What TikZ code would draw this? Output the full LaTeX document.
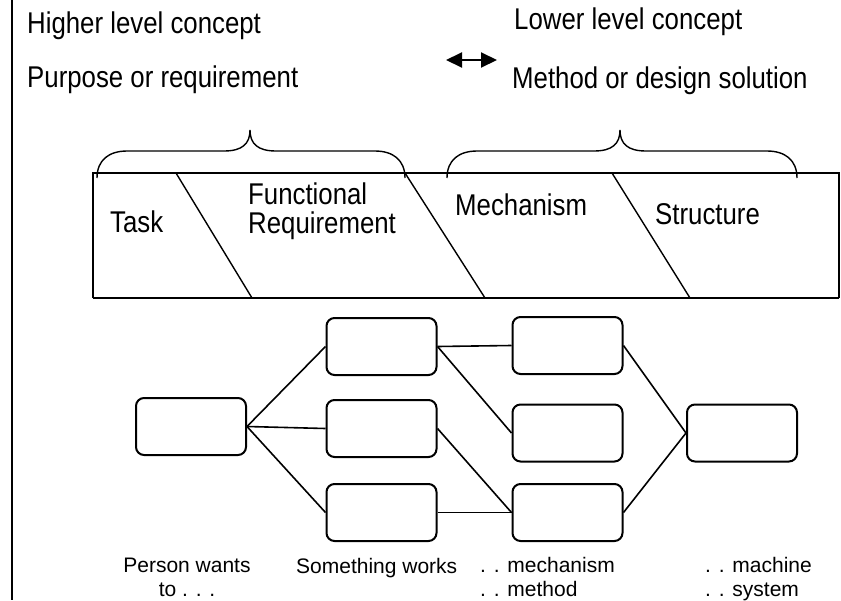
\documentclass[tikz,border=0pt]{standalone}
\usepackage{fontspec}
\setmainfont{Liberation Sans}
\newfontfamily\tallfont[FakeStretch=0.86]{Liberation Sans}
\usepackage{tikz}
\usetikzlibrary{arrows.meta, positioning}

\begin{document}
\begin{tikzpicture}[x=1pt, y=-1pt,
  box/.style={draw, line width=2pt, rounded corners=8pt, minimum width=110pt, minimum height=57pt, inner sep=0pt},
  link/.style={line width=1.6pt},
  big/.style={font=\tallfont\fontsize{30}{29}\selectfont, inner sep=0pt},
  small/.style={font=\fontsize{21}{24}\selectfont, inner sep=0pt}]
\useasboundingbox (0,0) rectangle (841,600);

% Frame line on the left
\draw[line width=2.5pt] (12,0) -- (12,600);

% Header texts
\node[big, anchor=base west] (high) at (27,33) {Higher level concept};
\node[big, anchor=base west] (purp) at (27,87) {Purpose or requirement};
\node[big, anchor=base west] (low)  at (514,29) {Lower level concept};
\node[big, anchor=base west] (meth) at (512,88) {Method or design solution};

% Double arrow
\coordinate (arrL) at (446,60);
\coordinate (arrR) at (497,60);
\draw[line width=2pt, {Triangle[length=16pt,width=15pt]}-{Triangle[length=16pt,width=15pt]}] (arrL) -- (arrR);

% Band
\draw[line width=1.4pt] (93,298) -- (93,173) -- (839,173) -- (839,298);
\draw[line width=2.4pt] (93,298) -- (839,298);

% Slanted dividers
\draw[line width=1.4pt] (176,173) -- (252,298);
\draw[line width=1.4pt] (405,173) -- (485,298);
\draw[line width=1.4pt] (612,173) -- (690,298);

% Band labels
\node[big, anchor=base west] (task) at (110,232) {Task};
\node[big, anchor=base west, align=left] (func) at (248,233) {Functional\\Requirement};
\node[big, anchor=base west] (mech) at (455,215) {Mechanism};
\node[big, anchor=base west] (struc) at (655,224) {Structure};

% Braces
\foreach \a/\m/\b in {97/250/405, 447/620/797}
  \draw[line width=1.4pt] (\a,178) .. controls (\a,160) and (\a+12,151) .. (\a+30,151)
    -- (\m-26,151) .. controls (\m-8,151) and (\m,144) .. (\m,130)
    .. controls (\m,144) and (\m+8,151) .. (\m+26,151)
    -- (\b-30,151) .. controls (\b-12,151) and (\b,160) .. (\b,178);

% Boxes
\node[box] (L)  at (191,426.5) {};
\node[box] (A1) at (381.5,346.5) {};
\node[box] (A2) at (381.5,428.5) {};
\node[box] (A3) at (381.5,512.5) {};
\node[box] (B1) at (567.5,345.5) {};
\node[box] (B2) at (567.5,433) {};
\node[box] (B3) at (567.5,512.5) {};
\node[box] (R)  at (742,433) {};

% Connectors
\foreach \s/\t in {L/A1, L/A2, L/A3, A1/B1, A1/B2, A2/B3, A3/B3, B1/R, B3/R}
  \draw[link] (\s.east) -- (\t.west);

% Bottom labels
\node[small, anchor=north, align=center] (person) at (187,557.5) {Person wants\\to . . .};
\node[small, anchor=base west] (works) at (296,573) {Something works};
\node[small, anchor=north west, align=left] (mlab) at (480,557.5) {. . mechanism\\. . method};
\node[small, anchor=north west, align=left] (slab) at (705,557.5) {. . machine\\. . system};

\end{tikzpicture}
\end{document}
